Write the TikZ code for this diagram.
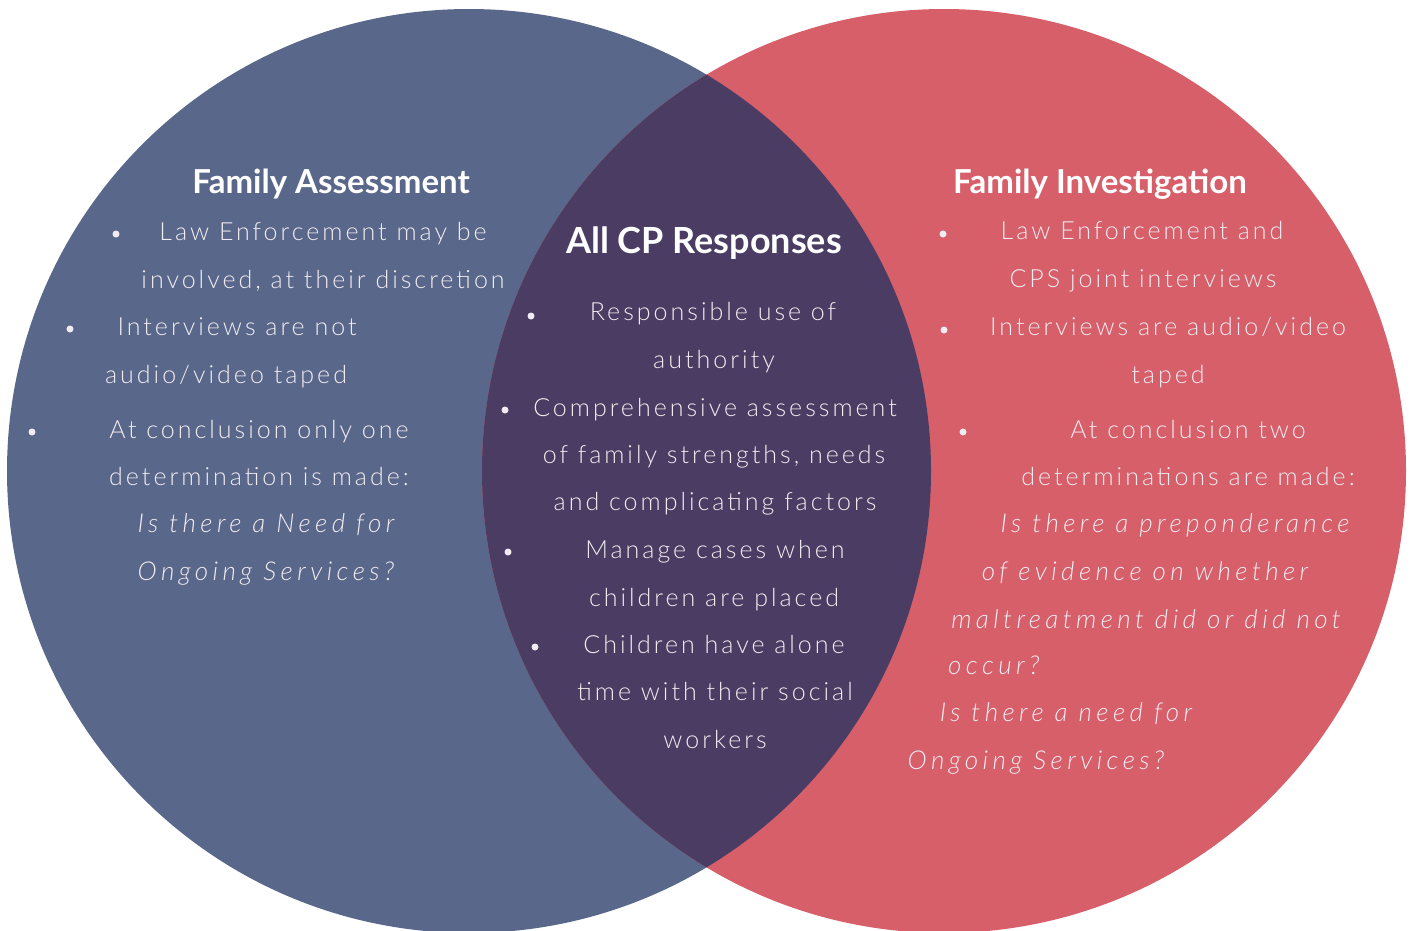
\documentclass[tikz,border=0pt]{standalone}
\usepackage{fontspec}
\setmainfont{Lato}
\newfontfamily\bodyfont[LetterSpace=12]{Lato Light}
\newfontfamily\italfont[LetterSpace=17]{Lato Light Italic}
\newfontfamily\headfont{Lato}
\definecolor{cblue}{HTML}{59678A}
\definecolor{cred}{HTML}{D65F6A}
\definecolor{clens}{HTML}{4A3C62}
\definecolor{ctext}{HTML}{F1ECF1}
\begin{document}
\begin{tikzpicture}[x=1pt,y=-1pt,
  body/.style={text=ctext, inner sep=0pt, font=\bodyfont\fontsize{25}{28}\selectfont, text height=17pt, text depth=0pt},
  ital/.style={body, font=\italfont\fontsize{26}{28}\selectfont},
  head/.style={text=white, inner sep=0pt, font=\headfont\bfseries\fontsize{33}{38}\selectfont, text height=23pt, text depth=0pt},
  dot/.style={circle, fill=ctext, inner sep=0pt, minimum size=7pt}]
\useasboundingbox (0,0) rectangle (1416,930);
\fill[cblue] (469,471) circle[radius=462pt];
\fill[cred] (944,471) circle[radius=462pt];
\begin{scope}
  \clip (469,471) circle[radius=462pt];
  \fill[clens] (944,471) circle[radius=462pt];
\end{scope}
% left
\node[head] (lt) at (331,182) {Family Assessment};
\node[dot] (lb1) at (116,234) {};
\node[body] (l1) at (323,232) {Law Enforcement may be};
\node[body] (l2) at (323,280) {involved, at their discretion};
\node[dot] (lb2) at (70,329) {};
\node[body] (l3) at (237,327) {Interviews are not};
\node[body] (l4) at (226,375) {audio/video taped};
\node[dot] (lb3) at (32,432) {};
\node[body] (l5) at (259,430) {At conclusion only one};
\node[body] (l6) at (259,477) {determination is made:};
\node[ital] (l7) at (266,524) {Is there a Need for};
\node[ital] (l8) at (266,572) {Ongoing Services?};
% center
\node[head, font=\headfont\bfseries\fontsize{36}{40}\selectfont] (ct) at (704,242) {All CP Responses};
\node[dot] (cb1) at (531,316) {};
\node[body] (c1) at (713,312) {Responsible use of};
\node[body] (c2) at (714,360) {authority};
\node[dot] (cb2) at (505,410) {};
\node[body] (c3) at (715,408) {Comprehensive assessment};
\node[body] (c4) at (714,455) {of family strengths, needs};
\node[body] (c5) at (715,502) {and complicating factors};
\node[dot] (cb3) at (508,552) {};
\node[body] (c6) at (715,550) {Manage cases when};
\node[body] (c7) at (714,598) {children are placed};
\node[dot] (cb4) at (535,647) {};
\node[body] (c8) at (714,645) {Children have alone};
\node[body] (c9) at (715,692) {time with their social};
\node[body] (c10) at (715,740) {workers};
% right
\node[head] (rt) at (1100,182) {Family Investigation};
\node[dot] (rb1) at (943,234) {};
\node[body] (r1) at (1142,231) {Law Enforcement and};
\node[body] (r2) at (1143,279) {CPS joint interviews};
\node[dot] (rb2) at (944,330) {};
\node[body] (r3) at (1168,327) {Interviews are audio/video};
\node[body] (r4) at (1168,375) {taped};
\node[dot] (rb3) at (963,432) {};
\node[body] (r5) at (1188,430) {At conclusion two};
\node[body] (r6) at (1188,477) {determinations are made:};
\node[ital] (r7) at (1175,524) {Is there a preponderance};
\node[ital] (r8) at (1145,572) {of evidence on whether};
\node[ital] (r9) at (1146,620) {maltreatment did or did not};
\node[ital, anchor=west] (r10) at (948,666) {occur?};
\node[ital] (r11) at (1066,713) {Is there a need for};
\node[ital] (r12) at (1036,761) {Ongoing Services?};
\end{tikzpicture}
\end{document}
